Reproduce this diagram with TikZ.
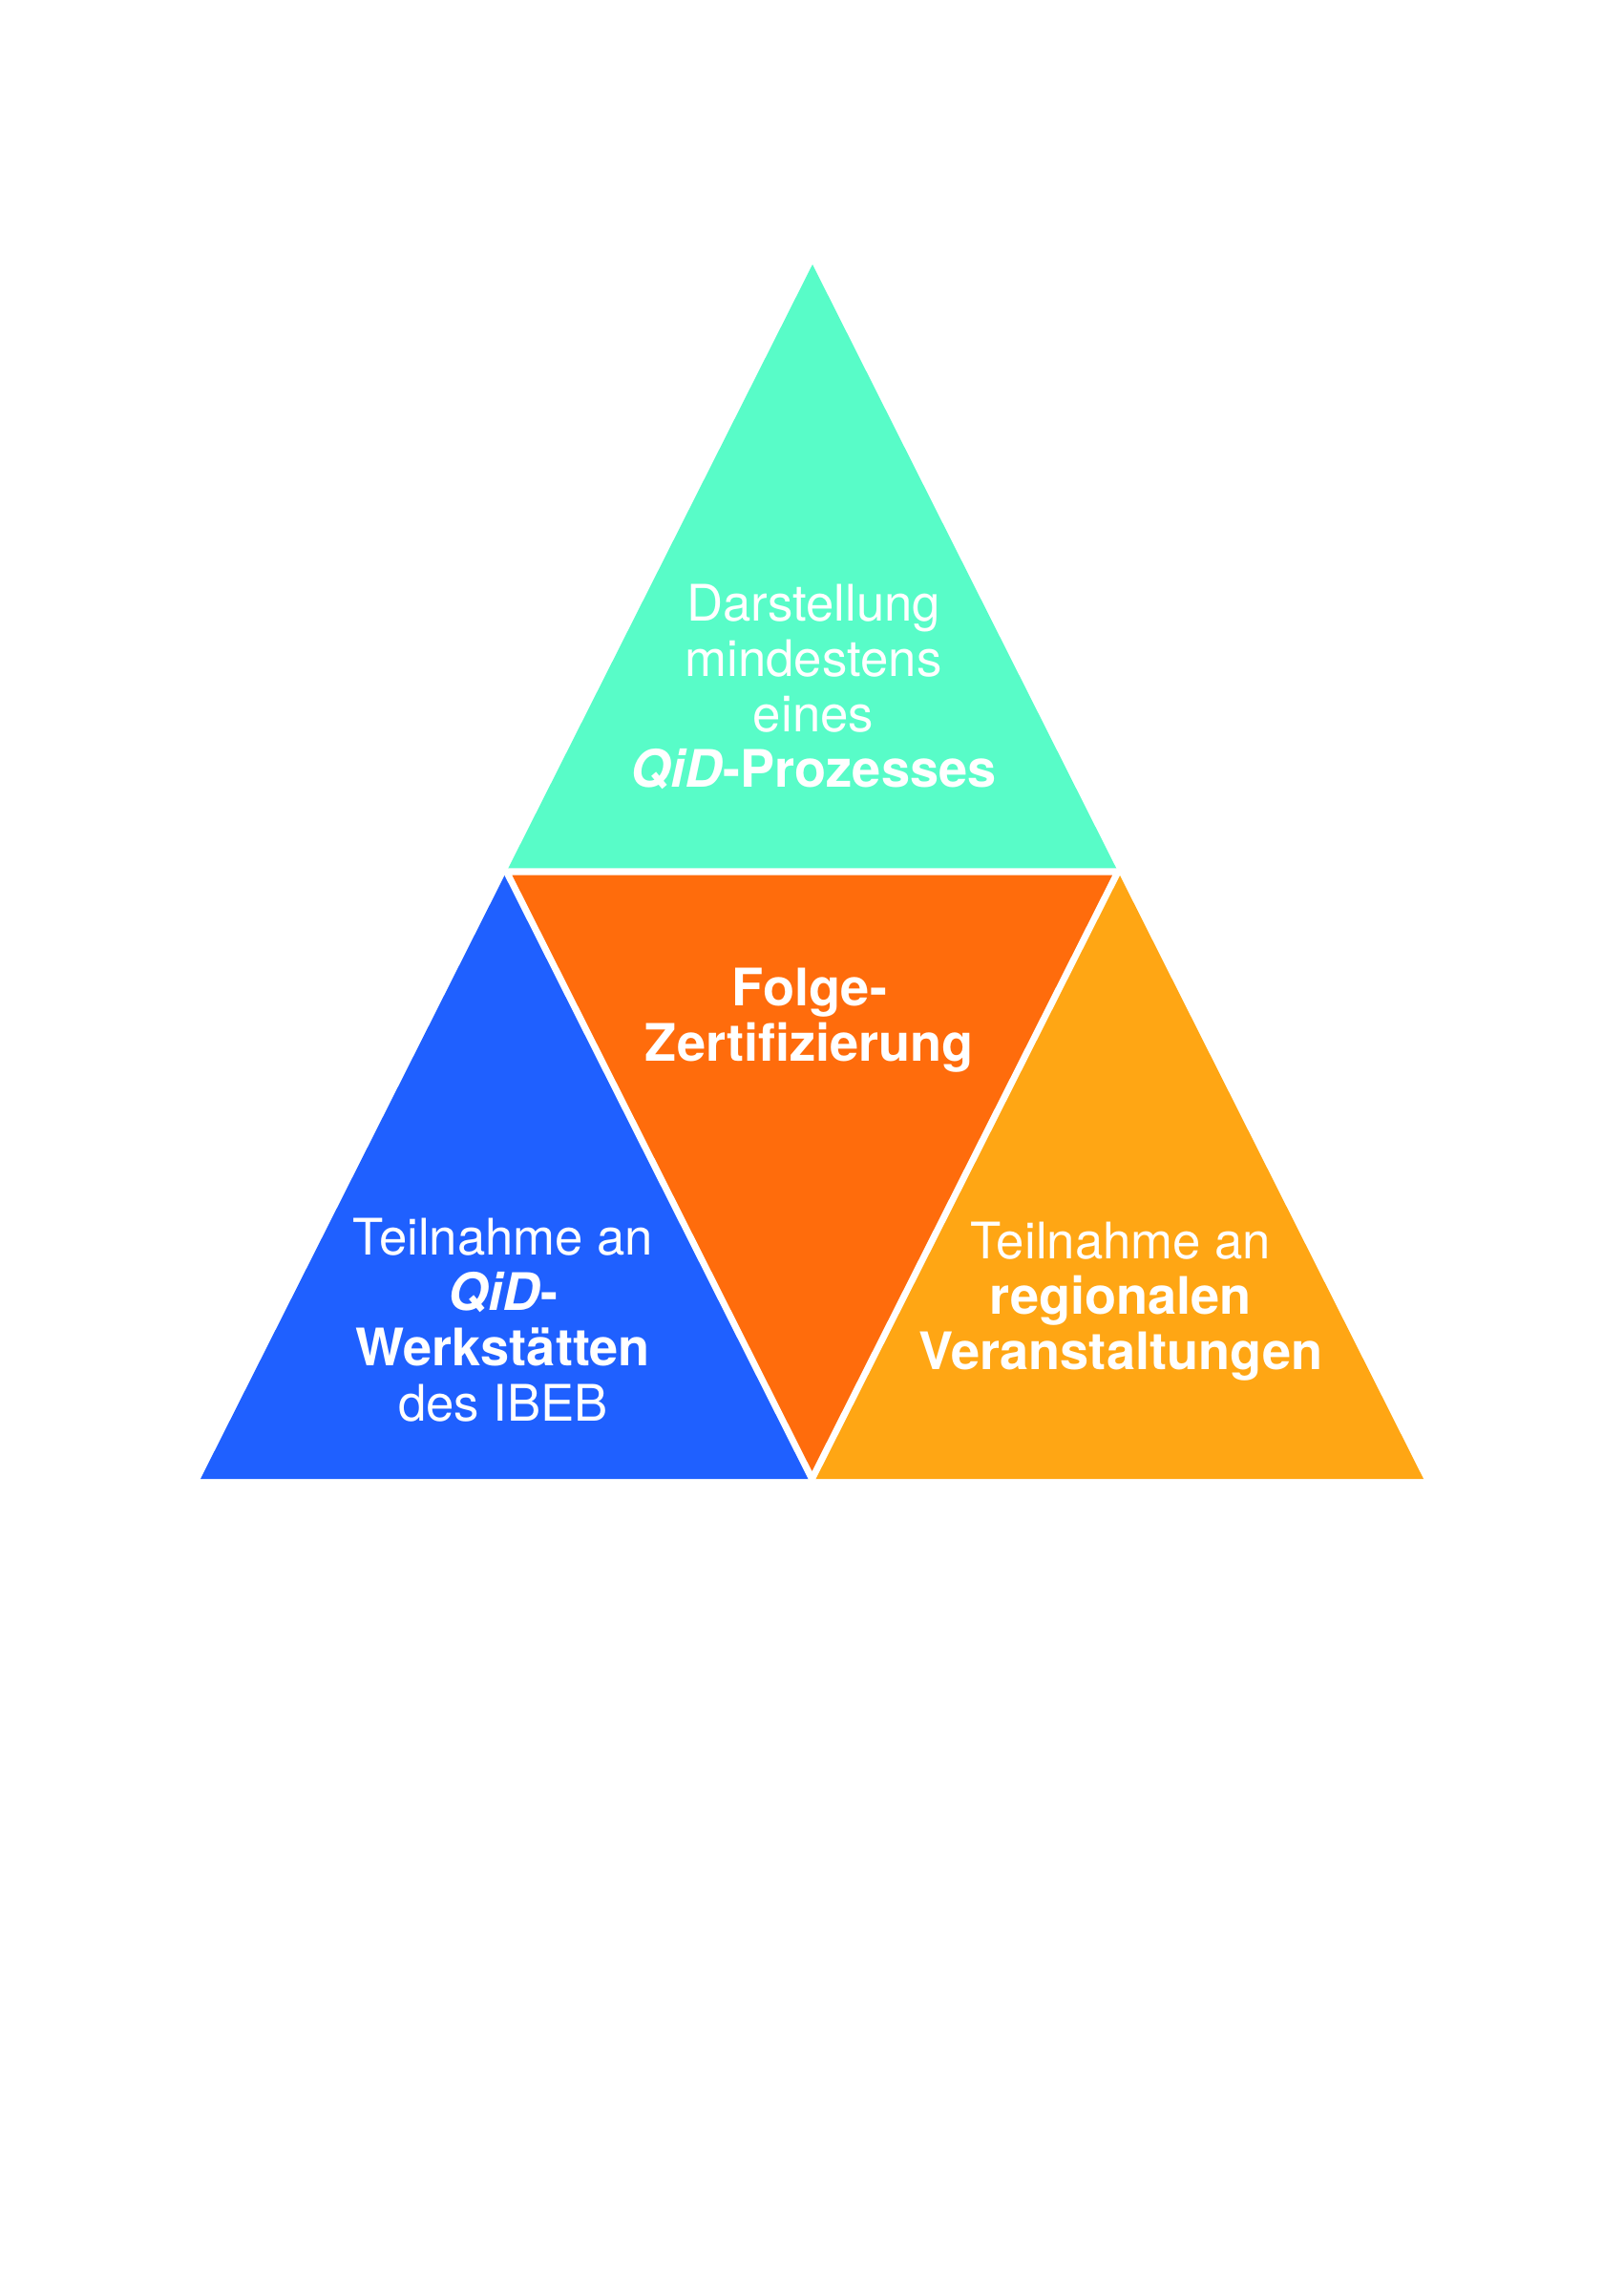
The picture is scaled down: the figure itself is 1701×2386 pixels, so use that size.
\documentclass[tikz,border=0pt]{standalone}
\usepackage{fontspec}
\setmainfont{TeX Gyre Heros}
\usepackage{tikz}
\usetikzlibrary{calc, positioning}
\definecolor{qidteal}{RGB}{88,252,200}
\definecolor{qidorange}{RGB}{255,108,12}
\definecolor{qidblue}{RGB}{31,96,255}
\definecolor{qidyellow}{RGB}{255,166,20}
\newcommand{\boldline}[1]{{\fontsize{15.4}{16.5}\selectfont\bfseries #1}}

\begin{document}
\begin{tikzpicture}[x=0.01cm, y=-0.01cm,
		every node/.style={text=white, align=center, inner sep=0pt, anchor=north, font=\fontsize{15}{16.5}\selectfont},
		gap/.style={white, line width=0.07cm, line join=miter}]
		\useasboundingbox (0,0) rectangle (1701,2386);
		% corners of the big triangle
		\coordinate (apex) at (851,277);
		\coordinate (bottomleft) at (210,1549);
		\coordinate (bottomright) at (1491,1549);
		\coordinate (midleft) at ($(apex)!0.5!(bottomleft)$);
		\coordinate (midright) at ($(apex)!0.5!(bottomright)$);
		\coordinate (bottommid) at ($(bottomleft)!0.5!(bottomright)$);
		
		\fill[qidteal] (apex) -- (midleft) -- (midright) -- cycle;
		\fill[qidblue] (midleft) -- (bottomleft) -- (bottommid) -- cycle;
		\fill[qidyellow] (midright) -- (bottommid) -- (bottomright) -- cycle;
		\fill[qidorange] (midleft) -- (midright) -- (bottommid) -- cycle;
		\draw[gap] (midleft) -- (midright) -- (bottommid) -- cycle;
		
		\node (darstellung) at (852,611) {Darstellung\\mindestens\\eines\\\boldline{\textit{QiD}-Prozesses}};
		\node (folge) at (848,1013) {\boldline{Folge-}\\\boldline{Zertifizierung}};
		\node (werkstatt) at (527,1275) {Teilnahme an\\\boldline{\textit{QiD}-}\\\boldline{Werkstätten}\\des IBEB};
		\node (regional) at (1174,1279) {Teilnahme an\\\boldline{regionalen}\\\boldline{Veranstaltungen}};
		\end{tikzpicture}
\end{document}
